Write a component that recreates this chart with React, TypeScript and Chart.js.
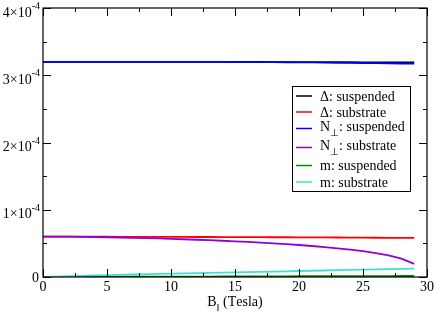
import React, { useEffect, useRef } from 'react';
import { Chart, registerables } from 'chart.js';

Chart.register(...registerables);

// ---- data ----
const fieldTesla = [0, 1, 2, 3, 4, 5, 6, 7, 8, 9, 10, 11, 12, 13, 14, 15, 16, 17, 18, 19, 20, 21, 22, 23, 24, 25, 26, 27, 28, 29];

const gapSuspended = [3.200e-4, 3.200e-4, 3.200e-4, 3.200e-4, 3.200e-4, 3.200e-4, 3.200e-4, 3.200e-4, 3.200e-4, 3.199e-4, 3.199e-4, 3.199e-4, 3.199e-4, 3.198e-4, 3.198e-4, 3.198e-4, 3.197e-4, 3.197e-4, 3.196e-4, 3.196e-4, 3.195e-4, 3.195e-4, 3.194e-4, 3.194e-4, 3.193e-4, 3.192e-4, 3.192e-4, 3.191e-4, 3.190e-4, 3.190e-4];
const gapSubstrate = [6.00e-5, 6.00e-5, 6.00e-5, 5.99e-5, 5.99e-5, 5.99e-5, 5.98e-5, 5.98e-5, 5.97e-5, 5.97e-5, 5.96e-5, 5.96e-5, 5.95e-5, 5.95e-5, 5.94e-5, 5.93e-5, 5.93e-5, 5.92e-5, 5.91e-5, 5.91e-5, 5.90e-5, 5.89e-5, 5.88e-5, 5.87e-5, 5.86e-5, 5.85e-5, 5.84e-5, 5.83e-5, 5.82e-5, 5.81e-5];
const normSuspended = [3.200e-4, 3.200e-4, 3.200e-4, 3.200e-4, 3.200e-4, 3.200e-4, 3.200e-4, 3.200e-4, 3.200e-4, 3.199e-4, 3.199e-4, 3.199e-4, 3.199e-4, 3.198e-4, 3.198e-4, 3.197e-4, 3.196e-4, 3.195e-4, 3.194e-4, 3.193e-4, 3.191e-4, 3.190e-4, 3.188e-4, 3.186e-4, 3.184e-4, 3.182e-4, 3.180e-4, 3.178e-4, 3.175e-4, 3.172e-4];
const normSubstrate = [6.00e-5, 6.00e-5, 5.99e-5, 5.97e-5, 5.95e-5, 5.91e-5, 5.87e-5, 5.83e-5, 5.78e-5, 5.73e-5, 5.67e-5, 5.61e-5, 5.54e-5, 5.47e-5, 5.39e-5, 5.31e-5, 5.22e-5, 5.12e-5, 5.01e-5, 4.89e-5, 4.76e-5, 4.61e-5, 4.45e-5, 4.27e-5, 4.07e-5, 3.84e-5, 3.56e-5, 3.21e-5, 2.72e-5, 1.95e-5];
const magSuspended = [0, 0.01e-5, 0.02e-5, 0.02e-5, 0.03e-5, 0.03e-5, 0.04e-5, 0.04e-5, 0.05e-5, 0.05e-5, 0.06e-5, 0.06e-5, 0.07e-5, 0.07e-5, 0.08e-5, 0.08e-5, 0.09e-5, 0.09e-5, 0.10e-5, 0.10e-5, 0.11e-5, 0.11e-5, 0.12e-5, 0.12e-5, 0.13e-5, 0.13e-5, 0.14e-5, 0.14e-5, 0.15e-5, 0.15e-5];
const magSubstrate = [0, 0.07e-5, 0.13e-5, 0.18e-5, 0.23e-5, 0.28e-5, 0.33e-5, 0.37e-5, 0.41e-5, 0.45e-5, 0.49e-5, 0.53e-5, 0.57e-5, 0.61e-5, 0.65e-5, 0.69e-5, 0.73e-5, 0.77e-5, 0.81e-5, 0.85e-5, 0.89e-5, 0.93e-5, 0.97e-5, 1.01e-5, 1.05e-5, 1.09e-5, 1.13e-5, 1.17e-5, 1.21e-5, 1.25e-5];

const seriesLabels = ['Δ: suspended', 'Δ: substrate', 'N⊥: suspended', 'N⊥: substrate', 'm: suspended', 'm: substrate'];
const seriesColors = ['#000000', '#ff0000', '#0000ff', '#9400d3', '#008b00', '#40e0d0'];
const seriesValues = [gapSuspended, gapSubstrate, normSuspended, normSubstrate, magSuspended, magSubstrate];

const xTickValues = [0, 5, 10, 15, 20, 25, 30];
const xMinorValues = [2.5, 7.5, 12.5, 17.5, 22.5, 27.5];
const yTickValues = [0, 1e-4, 2e-4, 3e-4, 4e-4];
const yTickMantissa = ['0', '1', '2', '3', '4'];
const yTickExponent = '-4';
const yMinorValues = [0.5e-4, 1.5e-4, 2.5e-4, 3.5e-4];
const xAxisTitle = 'B‖ (Tesla)';

const FONT = '"Liberation Serif", "Times New Roman", serif';
const SUBS = ['⊥', '‖'];
const FS = 14;

function drawRich(ctx: CanvasRenderingContext2D, text: string, x: number, y: number, size: number) {
  let cx = x;
  for (const ch of Array.from(text)) {
    if (SUBS.includes(ch)) {
      ctx.font = `${Math.round(size * 0.7)}px ${FONT}`;
      ctx.fillText(ch, cx, y + size * 0.38);
      cx += ctx.measureText(ch).width;
    } else {
      ctx.font = `${size}px ${FONT}`;
      ctx.fillText(ch, cx, y);
      cx += ctx.measureText(ch).width;
    }
  }
  return cx - x;
}

function measureRich(ctx: CanvasRenderingContext2D, text: string, size: number) {
  let w = 0;
  for (const ch of Array.from(text)) {
    ctx.font = SUBS.includes(ch) ? `${Math.round(size * 0.7)}px ${FONT}` : `${size}px ${FONT}`;
    w += ctx.measureText(ch).width;
  }
  return w;
}

const decorPlugin = {
  id: 'decor',
  afterDatasetsDraw(chart: any) {
    const ctx: CanvasRenderingContext2D = chart.ctx;
    const { left, right, top, bottom } = chart.chartArea;
    const xs = chart.scales.x;
    const ys = chart.scales.y;
    ctx.save();
    // frame
    ctx.strokeStyle = '#000';
    ctx.lineWidth = 1.2;
    ctx.strokeRect(left, top, right - left, bottom - top);
    // ticks
    ctx.lineWidth = 1;
    ctx.beginPath();
    const major = 8, minor = 4;
    xTickValues.forEach((v) => {
      const px = Math.round(xs.getPixelForValue(v)) + 0.5;
      ctx.moveTo(px, bottom); ctx.lineTo(px, bottom - major);
      ctx.moveTo(px, top); ctx.lineTo(px, top + major);
    });
    xMinorValues.forEach((v) => {
      const px = Math.round(xs.getPixelForValue(v)) + 0.5;
      ctx.moveTo(px, bottom); ctx.lineTo(px, bottom - minor);
      ctx.moveTo(px, top); ctx.lineTo(px, top + minor);
    });
    yTickValues.forEach((v) => {
      const py = Math.round(ys.getPixelForValue(v)) + 0.5;
      ctx.moveTo(left, py); ctx.lineTo(left + major, py);
      ctx.moveTo(right, py); ctx.lineTo(right - major, py);
    });
    yMinorValues.forEach((v) => {
      const py = Math.round(ys.getPixelForValue(v)) + 0.5;
      ctx.moveTo(left, py); ctx.lineTo(left + minor, py);
      ctx.moveTo(right, py); ctx.lineTo(right - minor, py);
    });
    ctx.stroke();

    // x tick labels
    ctx.fillStyle = '#000';
    ctx.textBaseline = 'alphabetic';
    ctx.textAlign = 'center';
    ctx.font = `${FS}px ${FONT}`;
    xTickValues.forEach((v) => {
      ctx.fillText(String(v), xs.getPixelForValue(v), bottom + 14);
    });
    // x title
    ctx.textAlign = 'left';
    const tw = measureRich(ctx, xAxisTitle, FS);
    drawRich(ctx, xAxisTitle, (left + right) / 2 - tw / 2, bottom + 29, FS);

    // y tick labels
    yTickValues.forEach((v, i) => {
      const py = ys.getPixelForValue(v);
      const mant = yTickMantissa[i];
      ctx.textAlign = 'right';
      if (mant === '0') {
        ctx.font = `${FS}px ${FONT}`;
        ctx.fillText('0', left - 4, py + 5);
        return;
      }
      ctx.font = `10px ${FONT}`;
      const ew = ctx.measureText(yTickExponent).width;
      const ex = left - 3;
      ctx.fillText(yTickExponent, ex, py + 1);
      ctx.font = `${FS}px ${FONT}`;
      ctx.fillText(`${mant}×10`, ex - ew, py + 8.5);
    });

    // legend
    const bx = 292, by = 86, bw = 118, bh = 105;
    ctx.fillStyle = '#fff';
    ctx.fillRect(bx, by, bw, bh);
    ctx.strokeStyle = '#000';
    ctx.lineWidth = 1;
    ctx.strokeRect(bx + 0.5, by + 0.5, bw, bh);
    const rowY = [96, 112, 128.5, 147.5, 165.5, 182];
    seriesLabels.forEach((label, i) => {
      const y = rowY[i];
      ctx.strokeStyle = seriesColors[i];
      ctx.lineWidth = 1.5;
      ctx.beginPath();
      ctx.moveTo(296, y);
      ctx.lineTo(312, y);
      ctx.stroke();
      ctx.fillStyle = '#000';
      ctx.textAlign = 'left';
      const hasSub = Array.from(label).some((c) => SUBS.includes(c));
      drawRich(ctx, label, 320, y + (hasSub ? 2 : 4.5), FS);
    });
    ctx.restore();
  },
};

export default function App() {
  const ref = useRef<HTMLCanvasElement>(null);
  useEffect(() => {
    document.body.style.margin = '0';
    if (!ref.current) return;
    const chart = new Chart(ref.current, {
      type: 'line',
      data: {
        datasets: seriesLabels.map((label, i) => ({
          label,
          data: fieldTesla.map((x, j) => ({ x, y: seriesValues[i][j] })),
          borderColor: seriesColors[i],
          backgroundColor: seriesColors[i],
          borderWidth: 1.8,
          pointRadius: 0,
          tension: 0,
          fill: false,
          order: seriesLabels.length - i,
        })),
      },
      options: {
        animation: false,
        responsive: false,
        devicePixelRatio: 1,
        layout: { padding: { left: 43, right: 9, top: 8, bottom: 38 } },
        plugins: { legend: { display: false }, tooltip: { enabled: false }, title: { display: false } },
        scales: {
          x: { type: 'linear', min: 0, max: 30, display: false },
          y: { type: 'linear', min: 0, max: 4e-4, display: false },
        },
      },
      plugins: [decorPlugin],
    });
    return () => chart.destroy();
  }, []);
  return (
    <div style={{ position: 'fixed', left: 0, top: 0, width: 436, height: 315, background: '#fff' }}>
      <canvas ref={ref} width={436} height={315} />
    </div>
  );
}
